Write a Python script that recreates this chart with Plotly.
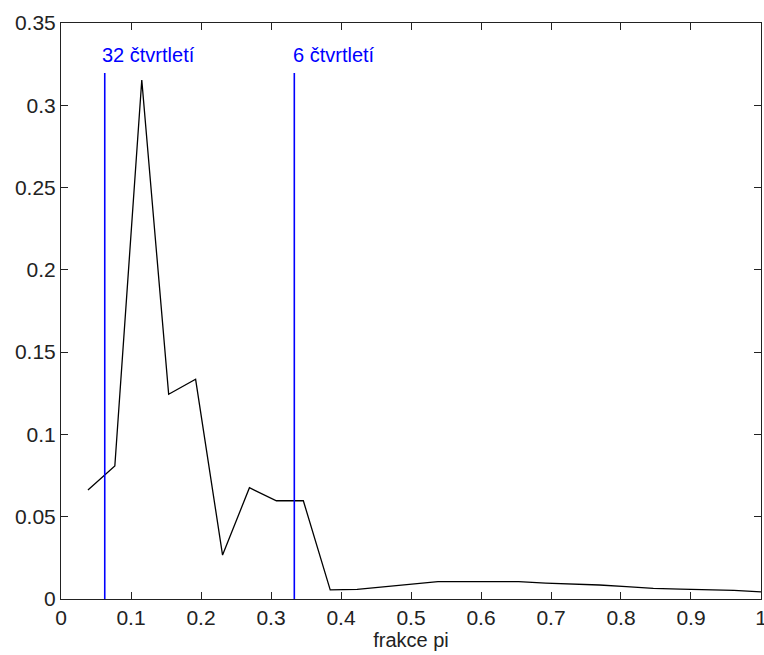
import plotly.graph_objects as go

# frequency as fraction of pi
freq = [0.0385, 0.0769, 0.1154, 0.1538, 0.1923, 0.2308, 0.2692, 0.3077, 0.3462,
        0.3846, 0.4231, 0.4615, 0.5000, 0.5385, 0.5769, 0.6154, 0.6538, 0.6923,
        0.7308, 0.7692, 0.8077, 0.8462, 0.8846, 0.9231, 0.9615, 1.0000]
spectrum = [0.0662, 0.0808, 0.3154, 0.1244, 0.1335, 0.0267, 0.0676, 0.0597, 0.0597,
            0.0055, 0.0059, 0.0075, 0.0093, 0.0105, 0.0105, 0.0105, 0.0105, 0.0097,
            0.0093, 0.0085, 0.0075, 0.0065, 0.0060, 0.0055, 0.0053, 0.0043]

marker_x = [0.0625, 0.3333]
marker_top = 0.3196
marker_labels = ["32 čtvrtletí", "6 čtvrtletí"]
label_x = [0.0555, 0.3280]
label_y = 0.3306

xticks = [0, 0.1, 0.2, 0.3, 0.4, 0.5, 0.6, 0.7, 0.8, 0.9, 1]
xticklabels = ["0", "0.1", "0.2", "0.3", "0.4", "0.5", "0.6", "0.7", "0.8", "0.9", "1"]
yticks = [0, 0.05, 0.1, 0.15, 0.2, 0.25, 0.3, 0.35]
yticklabels = ["0", "0.05", "0.1", "0.15", "0.2", "0.25", "0.3", "0.35"]

FONT = "Liberation Sans, Arial, sans-serif"

fig = go.Figure()
fig.add_trace(go.Scatter(x=freq, y=spectrum, mode="lines",
                         line=dict(color="black", width=1.3), showlegend=False))
for mx in marker_x:
    fig.add_trace(go.Scatter(x=[mx, mx], y=[0, marker_top], mode="lines",
                             line=dict(color="#0000ff", width=1.6), showlegend=False))
for lx, lt in zip(label_x, marker_labels):
    fig.add_annotation(x=lx, y=label_y, text=lt, showarrow=False, xanchor="left",
                       yanchor="middle", font=dict(family=FONT, size=20, color="#0000ff"))

axis_common = dict(showgrid=False, zeroline=False, showline=True, linecolor="#222",
                   linewidth=1, mirror="ticks", ticks="inside", ticklen=7,
                   tickcolor="#222", ticklabeloverflow="allow", automargin=False,
                   tickfont=dict(family=FONT, size=21, color="#222"))
fig.update_xaxes(range=[0, 1.00001], tickvals=xticks, ticktext=xticklabels,
                 title=dict(text="frakce pi", font=dict(family=FONT, size=20, color="#222"),
                            standoff=4), **axis_common)
fig.update_yaxes(range=[0, 0.35], tickvals=yticks, ticktext=yticklabels, **axis_common)
fig.update_layout(width=764, height=655, margin=dict(l=61, r=3, t=23, b=56),
                  plot_bgcolor="white", paper_bgcolor="white")
fig.write_html("out.html")
